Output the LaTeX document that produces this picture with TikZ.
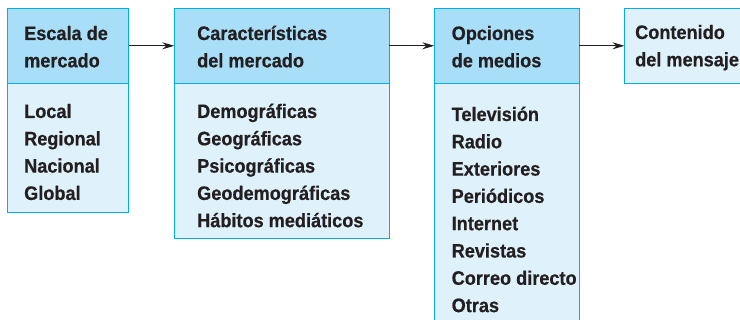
\documentclass[tikz,border=0pt]{standalone}
\usepackage{fontspec}
\setmainfont[FakeStretch=0.93,BoldFeatures={FakeBold=0.5}]{Liberation Sans}
\usetikzlibrary{arrows.meta,positioning}
\definecolor{boxline}{RGB}{0,174,239}
\definecolor{headfill}{RGB}{168,222,248}
\definecolor{bodyfill}{RGB}{223,242,251}
\definecolor{ink}{RGB}{35,31,32}
\begin{document}
\begin{tikzpicture}[x=1pt,y=-1pt,font=\fontsize{19.5}{27.3}\selectfont\bfseries,>={Stealth[length=12pt,width=7pt,inset=4pt]},head/.style={draw=boxline,line width=1.2pt,fill=headfill,minimum height=75pt,inner sep=0pt,outer sep=0pt,anchor=north west},body/.style={draw=boxline,line width=1.2pt,fill=bodyfill,inner sep=0pt,outer sep=0pt,anchor=north west},txt/.style={anchor=base west,inner sep=0pt,align=left,text=ink}]
\useasboundingbox (0,0) rectangle (740,320);
\clip (0,0) rectangle (740,320);
% boxes
\node[body,minimum width=121pt,minimum height=129pt] (escalab) at (7.5,83.3) {};
\node[head,minimum width=121pt] (escala) at (7.5,8.3) {};
\node[body,minimum width=215pt,minimum height=155.4pt] (caractb) at (174.3,83.3) {};
\node[head,minimum width=215pt] (caract) at (174.3,8.3) {};
\node[body,minimum width=145pt,minimum height=260pt] (opcionesb) at (434.3,83.3) {};
\node[head,minimum width=145pt] (opciones) at (434.3,8.3) {};
\node[body,minimum width=140pt,minimum height=75pt] (contenido) at (624.5,8.3) {};
% texts (placed at the baseline of their last line)
\node[txt] (escalat) at (24,67.3) {Escala de\\mercado};
\node[txt] (escalal) at (24,199.9) {Local\\Regional\\Nacional\\Global};
\node[txt] (caractt) at (197,67.3) {Características\\del mercado};
\node[txt] (caractl) at (197,227.2) {Demográficas\\Geográficas\\Psicográficas\\Geodemográficas\\Hábitos mediáticos};
\node[txt] (opcionest) at (451.5,67.3) {Opciones\\de medios};
\node[txt] (opcionesl) at (451.5,312.1) {Televisión\\Radio\\Exteriores\\Periódicos\\Internet\\Revistas\\Correo directo\\Otras};
\node[txt] (contenidot) at (635,66.3) {Contenido\\del mensaje};
% arrows
\draw[->,ink,line width=1pt] (escala.east) -- (caract.west);
\draw[->,ink,line width=1pt] (caract.east) -- (opciones.west);
\draw[->,ink,line width=1pt] (opciones.east) -- (contenido.west);
\end{tikzpicture}
\end{document}
